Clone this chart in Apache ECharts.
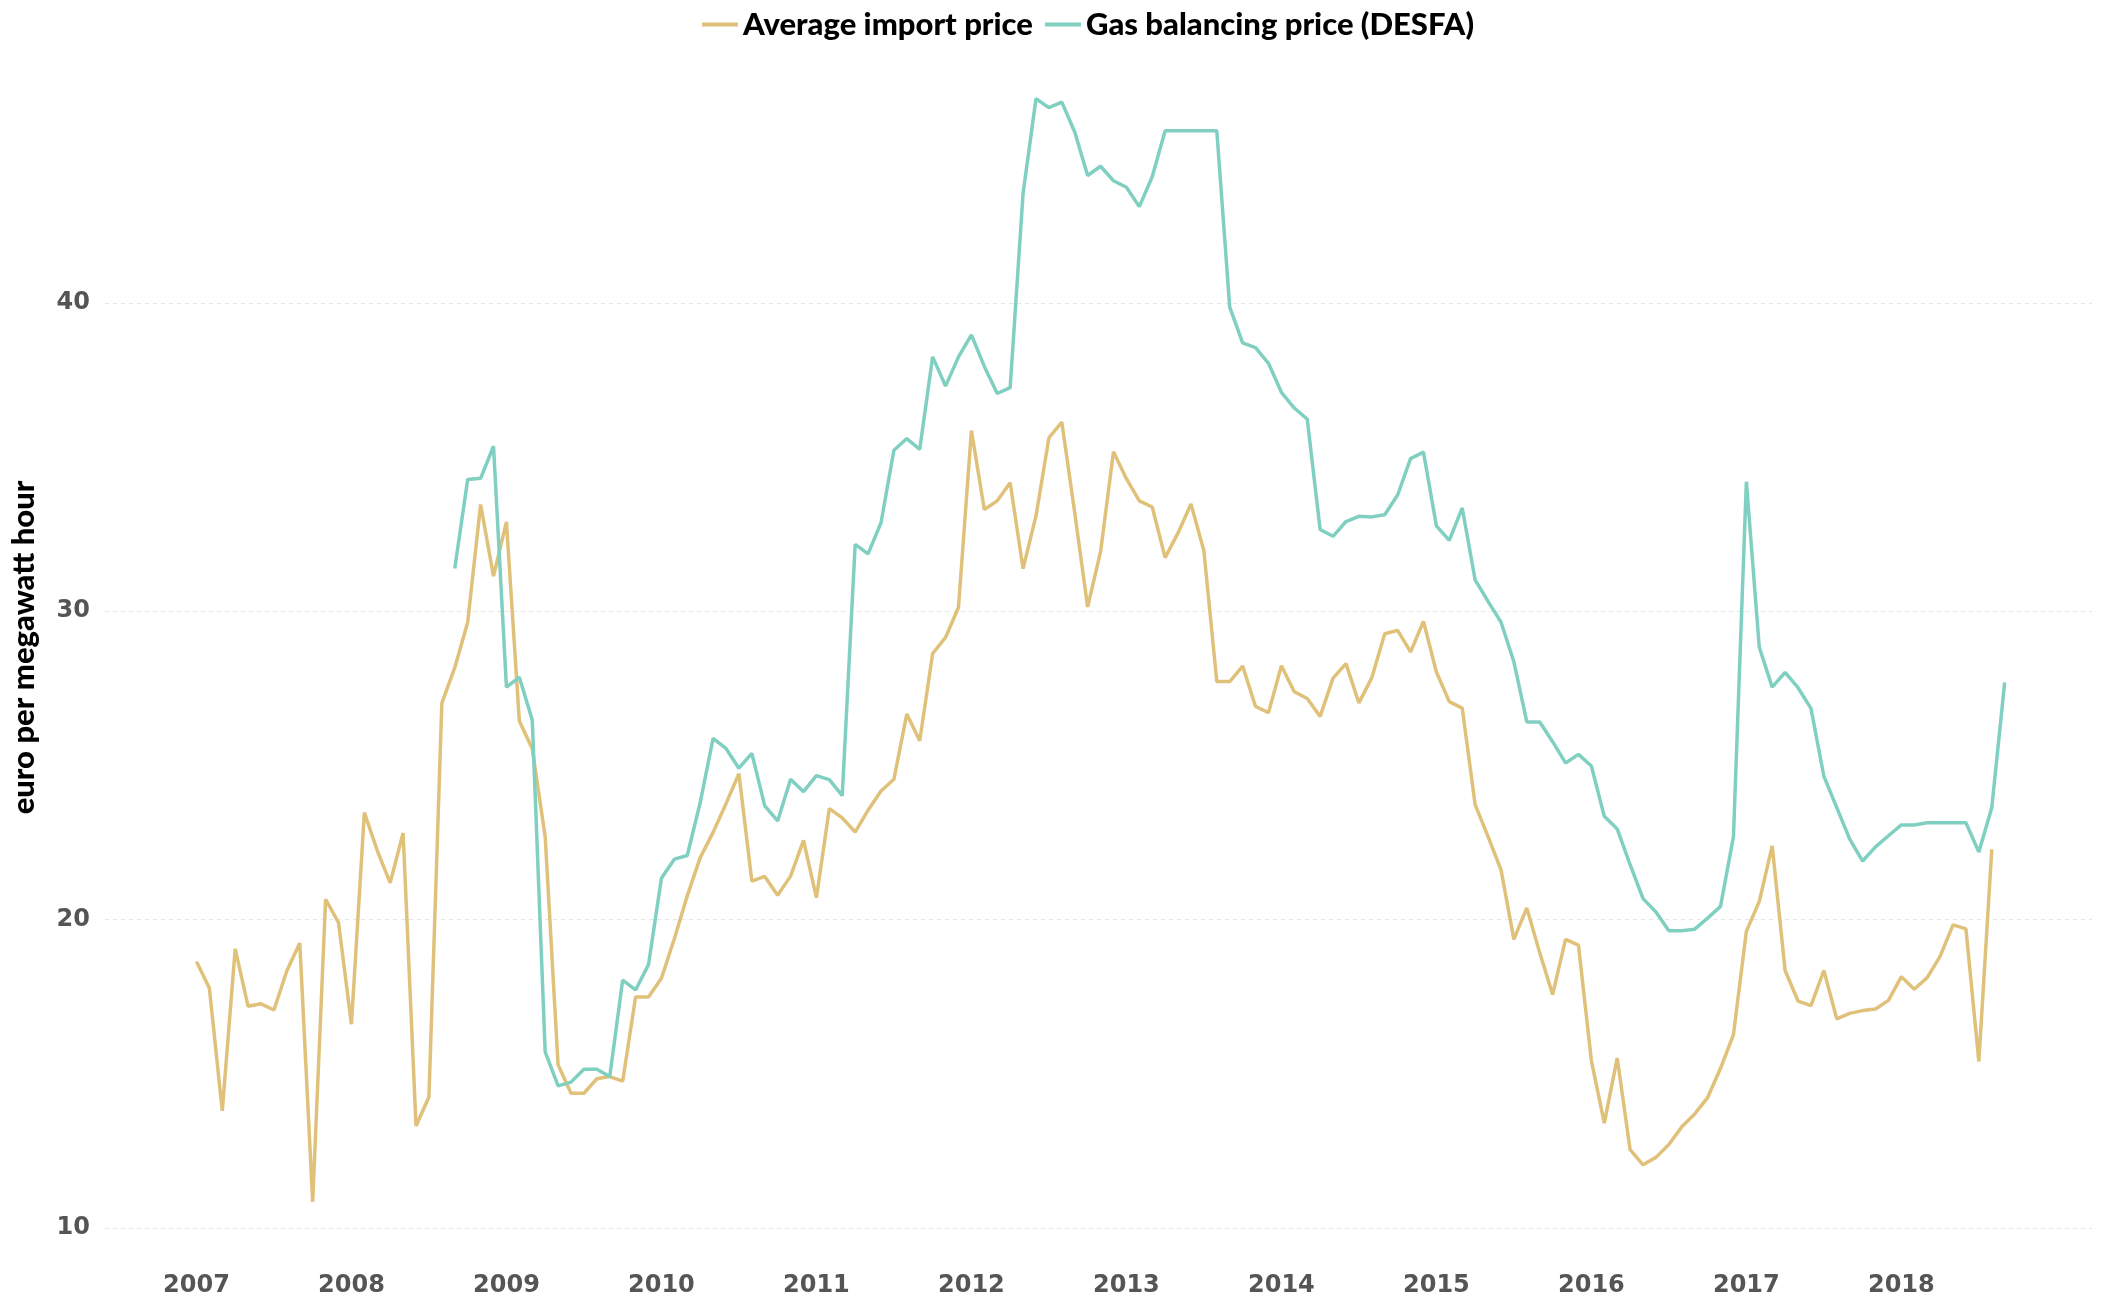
<!DOCTYPE html>
<html>
<head>
    <meta charset="utf-8">
    <title>Gas prices</title>
    <script src="https://cdn.jsdelivr.net/npm/echarts@6/dist/echarts.min.js"></script>
    <style>
        html, body { margin: 0; padding: 0; background: #fff; }
        #chart { width: 2105px; height: 1302px; }
    </style>
</head>
<body>
<div id="chart"></div>
<script type="text/javascript">
    // monthly values, euro per MWh
    var importStart = [2007, 1];   // Jan 2007
    var importPrice = [
        18.64, 17.78, 13.80, 19.05, 17.19, 17.27, 17.07, 18.34, 19.24, 10.85, 20.66, 19.90, // 2007
        16.61, 23.47, 22.24, 21.19, 22.81, 13.31, 14.25, 27.02, 28.17, 29.64, 33.46, 31.14, // 2008
        32.90, 26.44, 25.54, 22.69, 15.29, 14.37, 14.37, 14.84, 14.91, 14.76, 17.49, 17.49, // 2009
        18.10, 19.38, 20.77, 22.01, 22.83, 23.76, 24.73, 21.25, 21.40, 20.79, 21.41, 22.57, // 2010
        20.71, 23.60, 23.30, 22.84, 23.55, 24.17, 24.55, 26.67, 25.80, 28.63, 29.15, 30.13, // 2011
        35.86, 33.30, 33.58, 34.17, 31.38, 33.09, 35.62, 36.13, 33.19, 30.14, 31.93, 35.17, // 2012
        34.30, 33.58, 33.38, 31.74, 32.54, 33.48, 31.96, 27.72, 27.72, 28.22, 26.91, 26.71, // 2013
        28.23, 27.39, 27.17, 26.59, 27.83, 28.30, 27.03, 27.84, 29.27, 29.38, 28.68, 29.67, // 2014
        28.03, 27.07, 26.86, 23.73, 22.69, 21.62, 19.36, 20.38, 18.93, 17.57, 19.36, 19.17, // 2015
        15.43, 13.40, 15.51, 12.54, 12.05, 12.29, 12.71, 13.28, 13.70, 14.23, 15.18, 16.27, // 2016
        19.62, 20.59, 22.39, 18.35, 17.36, 17.21, 18.35, 16.78, 16.96, 17.05, 17.10, 17.38, // 2017
        18.15, 17.74, 18.12, 18.81, 19.83, 19.70, 15.40, 22.28                              // 2018
    ];

    var balancingStart = [2008, 9];   // Sep 2008
    var balancingPrice = [
        31.39, 34.27, 34.31, 35.35,                                                         // 2008
        27.54, 27.86, 26.47, 15.71, 14.61, 14.73, 15.15, 15.15, 14.91, 18.04, 17.72, 18.54, // 2009
        21.34, 21.96, 22.08, 23.79, 25.88, 25.55, 24.91, 25.39, 23.69, 23.20, 24.55, 24.15, // 2010
        24.67, 24.54, 24.02, 32.17, 31.86, 32.87, 35.22, 35.60, 35.25, 38.25, 37.30, 38.25, // 2011
        38.96, 37.94, 37.06, 37.25, 43.55, 46.62, 46.33, 46.51, 45.54, 44.13, 44.43, 43.96, // 2012
        43.75, 43.12, 44.09, 45.58, 45.58, 45.58, 45.58, 45.58, 39.86, 38.70, 38.55, 38.04, // 2013
        37.10, 36.59, 36.23, 32.65, 32.43, 32.91, 33.08, 33.06, 33.13, 33.77, 34.95, 35.16, // 2014
        32.77, 32.30, 33.35, 31.02, 30.32, 29.65, 28.36, 26.41, 26.41, 25.77, 25.08, 25.36, // 2015
        24.98, 23.35, 22.94, 21.78, 20.68, 20.25, 19.64, 19.64, 19.69, 20.05, 20.43, 22.69, // 2016
        34.20, 28.83, 27.54, 28.02, 27.52, 26.85, 24.65, 23.63, 22.61, 21.90, 22.36, 22.72, // 2017
        23.07, 23.07, 23.14, 23.14, 23.14, 23.14, 22.19, 23.63, 27.69                       // 2018
    ];

    var yearTicks = [2007, 2008, 2009, 2010, 2011, 2012, 2013, 2014, 2015, 2016, 2017, 2018];
    var seriesNames = ['Average import price', 'Gas balancing price (DESFA)'];

    // x position = year + month offset / 12
    function toPoints(start, values) {
        var out = [];
        for (var i = 0; i < values.length; i++) {
            var x = start[0] + (start[1] - 1 + i) / 12;
            out.push([x, values[i]]);
        }
        return out;
    }

    var labelFont = 'DejaVu Sans';
    var textFont = 'Lato, sans-serif';

    var myChart = echarts.init(document.getElementById('chart'), null, {renderer: 'canvas'});
    var option = {
        backgroundColor: '#ffffff',
        animation: false,
        color: ['#e0c17a', '#80d0c2'],
        legend: {
            data: seriesNames,
            left: 697,
            top: 4,
            icon: 'rect',
            itemWidth: 36,
            itemHeight: 4,
            itemGap: 12,
            textStyle: {
                fontFamily: textFont,
                fontWeight: 900,
                fontSize: 31,
                color: '#000'
            }
        },
        grid: {
            left: 103,
            right: 13,
            top: 87,
            bottom: 74
        },
        xAxis: {
            type: 'value',
            min: 2006.41,
            max: 2019.23,
            splitLine: {show: false},
            axisLine: {show: false},
            axisTick: {show: false},
            axisLabel: {
                customValues: yearTicks,
                formatter: function (v) { return String(Math.round(v)); },
                margin: 46,
                fontFamily: labelFont,
                fontWeight: 'bold',
                fontSize: 24,
                color: '#555'
            }
        },
        yAxis: {
            type: 'value',
            min: 10,
            max: 47,
            interval: 10,
            name: 'euro per megawatt hour',
            nameLocation: 'middle',
            nameGap: 66,
            nameTextStyle: {
                fontFamily: textFont,
                fontWeight: 900,
                fontSize: 31,
                color: '#000',
                padding: [0, 0, 0, 20]
            },
            axisLine: {show: false},
            axisTick: {show: false},
            axisLabel: {
                showMaxLabel: false,
                margin: 15,
                fontFamily: labelFont,
                fontWeight: 'bold',
                fontSize: 24,
                color: '#555'
            },
            splitLine: {
                showMaxLine: false,
                lineStyle: {color: '#e6e6e6', type: [4, 4], width: 1}
            }
        },
        series: [{
            name: seriesNames[0],
            type: 'line',
            showSymbol: false,
            symbol: 'none',
            lineStyle: {width: 3.5},
            data: toPoints(importStart, importPrice)
        }, {
            name: seriesNames[1],
            type: 'line',
            showSymbol: false,
            symbol: 'none',
            lineStyle: {width: 3.5},
            data: toPoints(balancingStart, balancingPrice)
        }]
    };
    myChart.setOption(option);
</script>
</body>
</html>
